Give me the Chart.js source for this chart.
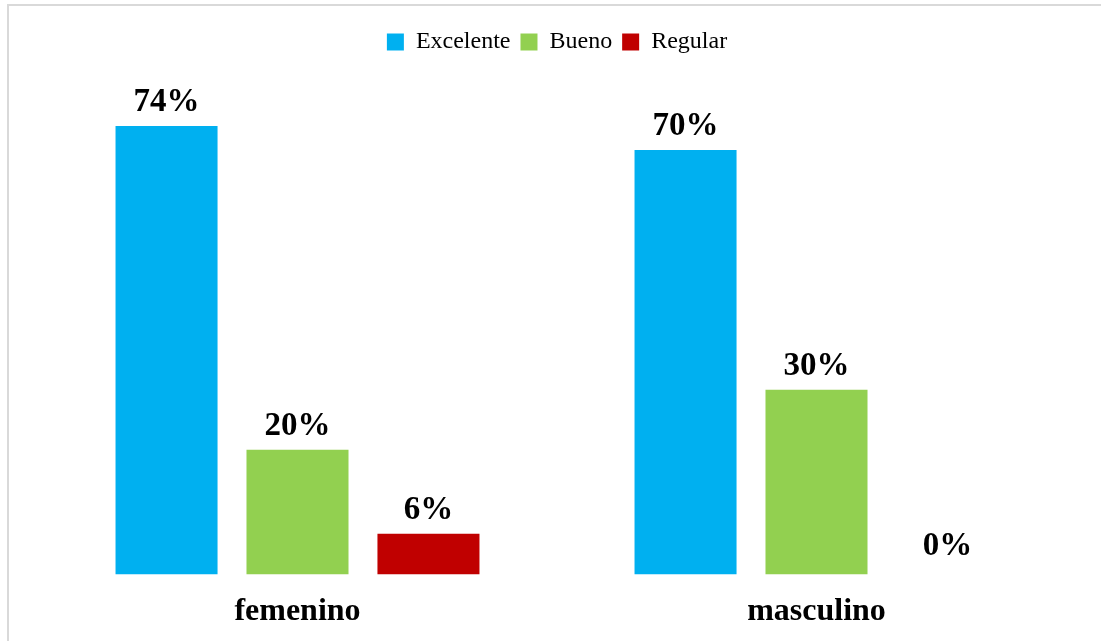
<!DOCTYPE html>
<html>
<head>
<meta charset="utf-8">
<script src="https://cdn.jsdelivr.net/npm/chart.js@4"></script>
<style>
    html, body { margin: 0; padding: 0; background: #fff; overflow: hidden; }
    #wrap { position: relative; width: 1101px; height: 641px; }
    #frame {
        position: absolute; left: 7px; top: 4px; width: 1200px; height: 700px;
        border-left: 2px solid #d9d9d9; border-top: 2px solid #d9d9d9;
    }
    canvas { position: absolute; left: 0; top: 0; }
</style>
</head>
<body>
<div id="wrap">
    <div id="frame"></div>
    <canvas id="chart" width="1101" height="641"></canvas>
</div>
<script>
// ================= DATA =================
const categories = ["femenino", "masculino"];
const seriesNames = ["Excelente", "Bueno", "Regular"];
const excelente = [74, 70];
const bueno = [20, 30];
const regular = [6, 0];

// ================= STYLE =================
const colorExcelente = "#00B0F0";
const colorBueno = "#92D050";
const colorRegular = "#C00000";
const FONT = "'Liberation Serif', 'Times New Roman', serif";

// value axis (hidden) - bars start a little under zero, like the original
const yMin = -0.8333;
const yMax = 84.33;

// 0 values draw no bar, only the label
function barColor(color) {
    return c => (c.raw === 0 ? "rgba(0,0,0,0)" : color);
}

// Labels on top of the bars
const valueLabels = {
    id: "valueLabels",
    afterDatasetsDraw(chart) {
        const ctx = chart.ctx;
        ctx.save();
        ctx.font = "bold 33px " + FONT;
        ctx.fillStyle = "#000";
        ctx.textAlign = "center";
        ctx.textBaseline = "middle";
        chart.data.datasets.forEach((ds, i) => {
            chart.getDatasetMeta(i).data.forEach((bar, j) => {
                ctx.fillText(ds.data[j] + "%", bar.x, bar.y - 23);
            });
        });
        ctx.restore();
    }
};

const ctx = document.getElementById("chart").getContext("2d");
new Chart(ctx, {
    type: "bar",
    data: {
        labels: categories,
        datasets: [
            { label: seriesNames[0], data: excelente, backgroundColor: barColor(colorExcelente), base: yMin },
            { label: seriesNames[1], data: bueno, backgroundColor: barColor(colorBueno), base: yMin },
            { label: seriesNames[2], data: regular, backgroundColor: barColor(colorRegular), base: yMin }
        ]
    },
    options: {
        responsive: false,
        animation: false,
        layout: { padding: { left: 38, right: 25, top: 20, bottom: -8 } },
        datasets: {
            bar: { categoryPercentage: 0.757, barPercentage: 0.779 }
        },
        plugins: {
            legend: {
                position: "top",
                labels: {
                    boxWidth: 17,
                    boxHeight: 17,
                    padding: 10,
                    color: "#000",
                    font: { family: FONT, size: 24 }
                }
            },
            tooltip: { enabled: false }
        },
        scales: {
            x: {
                grid: { display: false, drawTicks: false },
                border: { display: false },
                ticks: {
                    color: "#000",
                    padding: 18,
                    font: { family: FONT, size: 32, weight: "bold" }
                }
            },
            y: { display: false, min: yMin, max: yMax }
        }
    },
    plugins: [valueLabels]
});
</script>
</body>
</html>
